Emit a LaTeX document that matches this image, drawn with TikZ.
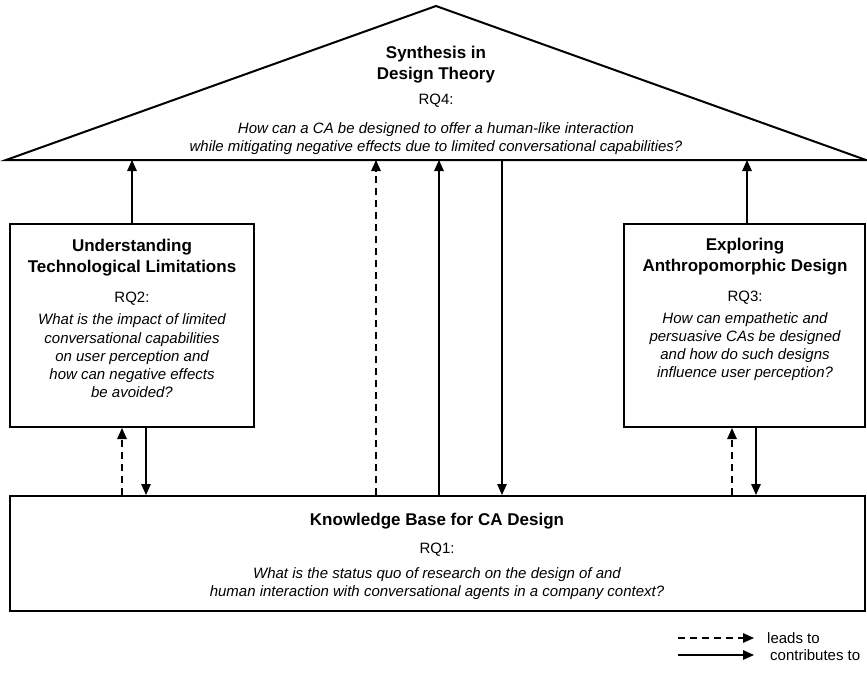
\documentclass[tikz,border=0pt]{standalone}
\usepackage{fontspec}
\setmainfont{Liberation Sans}
\usetikzlibrary{arrows.meta}
\tikzset{
  frame/.style={draw=black, line width=2pt, fill=white, inner sep=0pt},
  conn/.style={line width=1.5pt, -{Triangle[length=11pt,width=9.5pt]}},
  lead/.style={conn, dash pattern=on 7pt off 5pt},
  ttl/.style={align=center, inner sep=0pt, font=\fontsize{17}{21}\selectfont\bfseries},
  rq/.style={inner sep=0pt, font=\fontsize{15}{18}\selectfont},
  qst/.style={align=center, inner sep=0pt, font=\fontsize{15}{18.2}\selectfont\itshape},
  lgd/.style={anchor=west, inner sep=0pt, font=\fontsize{15}{18}\selectfont}
}
\begin{document}
\begin{tikzpicture}[x=1pt,y=-1pt]
\useasboundingbox (0,0) rectangle (867,672);
% triangle
\coordinate (tl) at (6,160);
\coordinate (ta) at (436,6);
\coordinate (tr) at (866,160);
\draw[line width=2pt, line join=miter] (tl) -- (ta) -- (tr) -- cycle;
\node[ttl] (t4) at (436,65) {Synthesis in\\Design Theory};
\node[rq] (r4) at (436,100.5) {RQ4:};
\node[qst] (q4) at (436,139) {How can a CA be designed to offer a human-like interaction\\while mitigating negative effects due to limited conversational capabilities?};
% boxes
\node[frame, minimum width=244pt, minimum height=203pt] (b2) at (132,325.5) {};
\node[frame, minimum width=241pt, minimum height=203pt] (b3) at (744.5,325.5) {};
\node[frame, minimum width=855pt, minimum height=115pt] (b1) at (437.5,553.5) {};
% texts
\node[ttl] (t2) at (132,258) {Understanding\\Technological Limitations};
\node[rq] (r2) at (132,298.5) {RQ2:};
\node[qst] (q2) at (132,356) {What is the impact of limited\\conversational capabilities\\on user perception and\\how can negative effects\\be avoided?};
\node[ttl] (t3) at (745,257) {Exploring\\Anthropomorphic Design};
\node[rq] (r3) at (745,297.5) {RQ3:};
\node[qst] (q3) at (745,346.5) {How can empathetic and\\persuasive CAs be designed\\and how do such designs\\influence user perception?};
\node[ttl] (t1) at (437,521.5) {Knowledge Base for CA Design};
\node[rq] (r1) at (437,550) {RQ1:};
\node[qst] (q1) at (437,584) {What is the status quo of research on the design of and\\human interaction with conversational agents in a company context?};
% connectors
\draw[conn] (b2.north -| 132,0) -- (132,160);
\draw[conn] (b3.north -| 747,0) -- (747,160);
\draw[lead] (b1.north -| 122,0) -- (b2.south -| 122,0);
\draw[conn] (b2.south -| 146,0) -- (b1.north -| 146,0);
\draw[lead] (b1.north -| 732,0) -- (b3.south -| 732,0);
\draw[conn] (b3.south -| 756,0) -- (b1.north -| 756,0);
\draw[lead] (b1.north -| 376,0) -- (376,160);
\draw[conn] (b1.north -| 439,0) -- (439,160);
\draw[conn] (502,160) -- (b1.north -| 502,0);
% legend
\coordinate (l1a) at (678,638);
\coordinate (l1b) at (754,638);
\coordinate (l2a) at (678,655);
\coordinate (l2b) at (754,655);
\draw[lead] (l1a) -- (l1b);
\draw[conn] (l2a) -- (l2b);
\node[lgd] (lg1) at (767,638) {leads to};
\node[lgd] (lg2) at (770,655) {contributes to};
\end{tikzpicture}
\end{document}
